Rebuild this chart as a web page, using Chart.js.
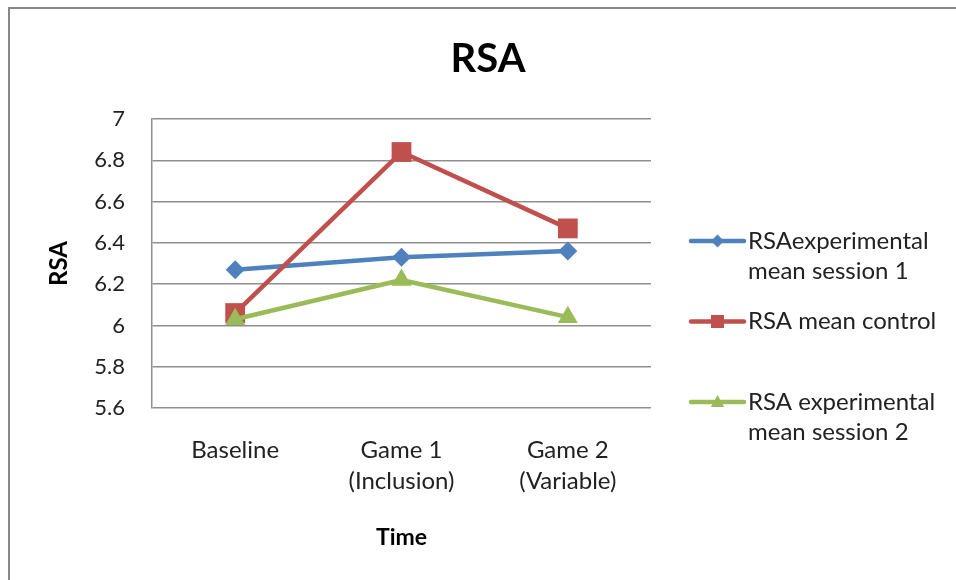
<!DOCTYPE html>
<html>
<head>
<meta charset="utf-8">
<script src="https://cdn.jsdelivr.net/npm/chart.js@4/dist/chart.umd.min.js"></script>
<style>
  html, body { margin: 0; padding: 0; background: #fff; }
  #wrap { position: relative; width: 956px; height: 580px; }
</style>
</head>
<body>
<div id="wrap"><canvas id="c"></canvas></div>
<script>
// Measurement phases (x axis)
const categories = [['Baseline'], ['Game 1', '(Inclusion)'], ['Game 2', '(Variable)']];

// Mean RSA per phase
const rsaExperimentalSession1 = [6.27, 6.33, 6.36];
const rsaMeanControl = [6.06, 6.84, 6.47];
const rsaExperimentalSession2 = [6.03, 6.22, 6.04];

// Series names, split over the lines used in the legend
const seriesNames = [
  ['RSAexperimental', 'mean session 1'],
  ['RSA mean control'],
  ['RSA experimental', 'mean session 2']
];

// Value axis ticks
const yTicks = [5.6, 5.8, 6, 6.2, 6.4, 6.6, 6.8, 7];

const FONT = 'Lato, "Open Sans", sans-serif';
const BLUE = '#4F81BD', RED = '#C0504D', GREEN = '#9BBB59';
const GRID = '#8f8f8f';

function series(i, values, color, style, radius, order) {
  return {
    label: seriesNames[i].join(' '),
    data: values,
    yAxisID: 'y',
    borderColor: color,
    backgroundColor: color,
    borderWidth: 4.5,
    borderCapStyle: 'round',
    borderJoinStyle: 'round',
    pointStyle: style,
    pointRadius: radius,
    pointHoverRadius: radius,
    pointBorderWidth: 0,
    pointBackgroundColor: color,
    tension: 0,
    order: order
  };
}

// Outer frame of the chart object
const framePlugin = {
  id: 'frame',
  beforeDraw(chart) {
    const ctx = chart.ctx;
    ctx.save();
    ctx.fillStyle = '#fff';
    ctx.fillRect(0, 0, chart.width, chart.height);
    ctx.strokeStyle = '#878787';
    ctx.lineWidth = 2;
    ctx.strokeRect(9, 8, chart.width + 40, chart.height + 40);
    ctx.restore();
  }
};

function drawMarker(ctx, style, x, y, r) {
  ctx.beginPath();
  if (style === 'rectRot') {
    ctx.moveTo(x, y - r); ctx.lineTo(x + r, y); ctx.lineTo(x, y + r); ctx.lineTo(x - r, y);
  } else if (style === 'rect') {
    ctx.rect(x - r, y - r, 2 * r, 2 * r);
  } else if (style === 'triangle') {
    ctx.moveTo(x, y - r); ctx.lineTo(x + r * 0.95, y + r * 0.7); ctx.lineTo(x - r * 0.95, y + r * 0.7);
  }
  ctx.closePath();
  ctx.fill();
}

// Legend to the right of the plot, one row per series
const sideLegend = {
  id: 'sideLegend',
  afterDraw(chart) {
    const ctx = chart.ctx;
    const sizes = { rectRot: 6.5, rect: 6.5, triangle: 7 };
    const area = chart.chartArea;
    ctx.save();
    chart.data.datasets.forEach((ds, i) => {
      const y = 241 + i * 80.5;
      const x0 = area.right + 40;
      ctx.strokeStyle = ds.borderColor;
      ctx.lineWidth = 4.5;
      ctx.lineCap = 'round';
      ctx.beginPath();
      ctx.moveTo(x0, y);
      ctx.lineTo(x0 + 53, y);
      ctx.stroke();
      ctx.fillStyle = ds.borderColor;
      drawMarker(ctx, ds.pointStyle, x0 + 26.5, y, sizes[ds.pointStyle]);
      ctx.fillStyle = '#222';
      ctx.font = '24px ' + FONT;
      ctx.textAlign = 'left';
      ctx.textBaseline = 'middle';
      seriesNames[i].forEach((line, k) => ctx.fillText(line, x0 + 57, y + k * 30.5));
    });
    ctx.restore();
  }
};

new Chart(document.getElementById('c'), {
  type: 'line',
  data: {
    labels: categories,
    datasets: [
      series(0, rsaExperimentalSession1, BLUE, 'rectRot', 9.5, 2),
      series(1, rsaMeanControl, RED, 'rect', 14, 1),
      series(2, rsaExperimentalSession2, GREEN, 'triangle', 11.5, 0)
    ]
  },
  options: {
    responsive: true,
    maintainAspectRatio: false,
    animation: false,
    layout: { padding: { left: 20, right: 0, top: 0, bottom: 0 } },
    plugins: {
      legend: { display: false },
      tooltip: { enabled: false },
      title: {
        display: true,
        text: 'RSA',
        color: '#000',
        font: { family: FONT, size: 40, weight: 'bold', lineHeight: 1.2 },
        padding: { top: 35, bottom: 36 }
      }
    },
    scales: {
      x: {
        type: 'category',
        offset: true,
        grid: { display: false, drawTicks: false },
        border: { display: false },
        ticks: {
          color: '#222',
          padding: 26,
          maxRotation: 0,
          autoSkip: false,
          font: { family: FONT, size: 24, lineHeight: 1.32 }
        },
        title: {
          display: true,
          text: 'Time',
          color: '#000',
          font: { family: FONT, size: 23, weight: 'bold', lineHeight: 1.2 },
          padding: { top: 29, bottom: 29 }
        },
        afterFit(scale) { scale.height = 172; }
      },
      y: {
        position: 'left',
        min: 5.6,
        max: 7,
        afterBuildTicks(scale) { scale.ticks = yTicks.map(v => ({ value: v })); },
        grid: { color: GRID, lineWidth: 1.5, drawTicks: false },
        border: { display: true, color: GRID, width: 1.5 },
        ticks: {
          color: '#222',
          padding: 27,
          font: { family: FONT, size: 22 },
          callback: (v) => String(v)
        },
        title: {
          display: true,
          text: 'RSA',
          color: '#000',
          font: { family: FONT, size: 24, weight: 'bold', lineHeight: 1.2 },
          padding: { top: 25, bottom: 0 }
        },
        afterFit(scale) { scale.width = 132; }
      },
      // Empty band on the right that holds the legend
      legendSpace: {
        type: 'linear',
        position: 'right',
        display: true,
        grid: { display: false, drawTicks: false },
        border: { display: false },
        ticks: { display: false },
        afterFit(scale) { scale.width = 305; }
      }
    }
  },
  plugins: [framePlugin, sideLegend]
});
</script>
</body>
</html>
